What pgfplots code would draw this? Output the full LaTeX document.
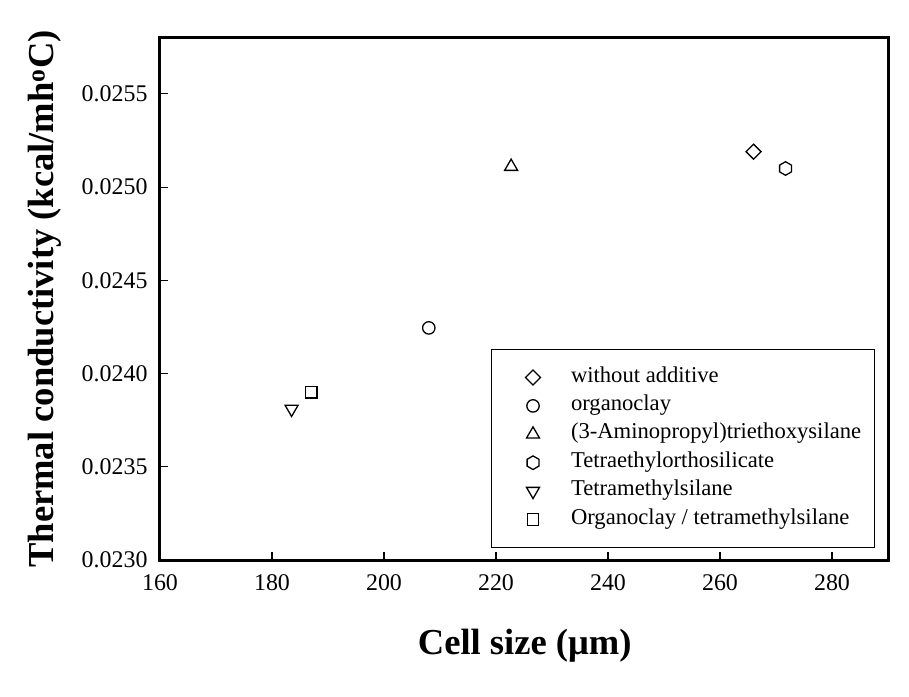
\documentclass[border=0pt]{standalone}
\usepackage{fontspec}
\setmainfont{Liberation Serif}
\usepackage{pgfplots}
\pgfplotsset{compat=1.18}
\pgfdeclareplotmark{hexagon}{%
  \pgfpathmoveto{\pgfqpointpolar{90}{\pgfplotmarksize}}%
  \pgfpathlineto{\pgfqpointpolar{150}{\pgfplotmarksize}}%
  \pgfpathlineto{\pgfqpointpolar{210}{\pgfplotmarksize}}%
  \pgfpathlineto{\pgfqpointpolar{270}{\pgfplotmarksize}}%
  \pgfpathlineto{\pgfqpointpolar{330}{\pgfplotmarksize}}%
  \pgfpathlineto{\pgfqpointpolar{30}{\pgfplotmarksize}}%
  \pgfpathclose\pgfusepathqstroke}
\begin{document}
\begin{tikzpicture}
\begin{axis}[
  scale only axis, width=728bp, height=522bp,
  xmin=160, xmax=290, ymin=0.0230, ymax=0.0258,
  xtick={160,180,...,280}, ytick={0.0230,0.0235,...,0.0255},
  scaled y ticks=false,
  yticklabel style={xshift=-9bp, /pgf/number format/.cd, fixed, fixed zerofill, precision=4},
  /pgf/number format/assume math mode=true,
  ticklabel style={font=\fontsize{24}{24}\selectfont},
  xticklabel style={yshift=-11bp},
  tick pos=left, tick align=inside, major tick length=8bp,
  tick style={line width=1.1bp, black},
  axis line style={line width=3bp},
  xlabel={\textbf{Cell size (μm)}},
  ylabel={\textbf{Thermal conductivity (kcal/mh\textsuperscript{o}C)}},
  label style={font=\fontsize{36.7}{36.7}\selectfont},
  xlabel style={at={(axis description cs:0.501,-0.165)}, anchor=center},
  ylabel style={at={(axis description cs:-0.158,0.5)}, anchor=center, rotate=0},
  only marks,
  mark options={solid, line width=1.3bp, fill=none},
  legend cell align=left,
  legend style={draw=none, fill=none, at={(axis description cs:0.4547,0.4042)}, anchor=north west,
    inner xsep=34.5bp, inner ysep=18bp, outer sep=0pt, column sep=30.5bp, row sep=7.4bp,
    font=\fontsize{22.7}{22.7}\selectfont,
    nodes={inner sep=0pt, text height=15bp, text depth=6bp}},
]
\addplot[black, mark=square, mark size=5.3bp, mark options={solid, line width=1.3bp, rotate=45}] coordinates {(266,0.02519)};
\addlegendentry{without additive}
\addplot[black, mark=o, mark size=6.2bp] coordinates {(208,0.024245)};
\addlegendentry{organoclay}
\addplot[black, mark=triangle, mark size=7.5bp] coordinates {(222.7,0.02511)};
\addlegendentry{(3-Aminopropyl)triethoxysilane}
\addplot[black, mark=hexagon, mark size=6.8bp] coordinates {(271.7,0.02510)};
\addlegendentry{Tetraethylorthosilicate}
\addplot[black, mark=triangle, mark size=7.5bp, mark options={solid, line width=1.3bp, rotate=180}] coordinates {(183.5,0.02381)};
\addlegendentry{Tetramethylsilane}
\addplot[black, mark=square, mark size=5.8bp] coordinates {(187,0.02390)};
\addlegendentry{Organoclay / tetramethylsilane}
\draw[line width=1bp] (rel axis cs:0.4547,0.0249) rectangle (rel axis cs:0.982,0.4042);
\end{axis}
\path[use as bounding box] (-160bp,-137bp) rectangle (749bp,560bp);
\end{tikzpicture}
\end{document}
